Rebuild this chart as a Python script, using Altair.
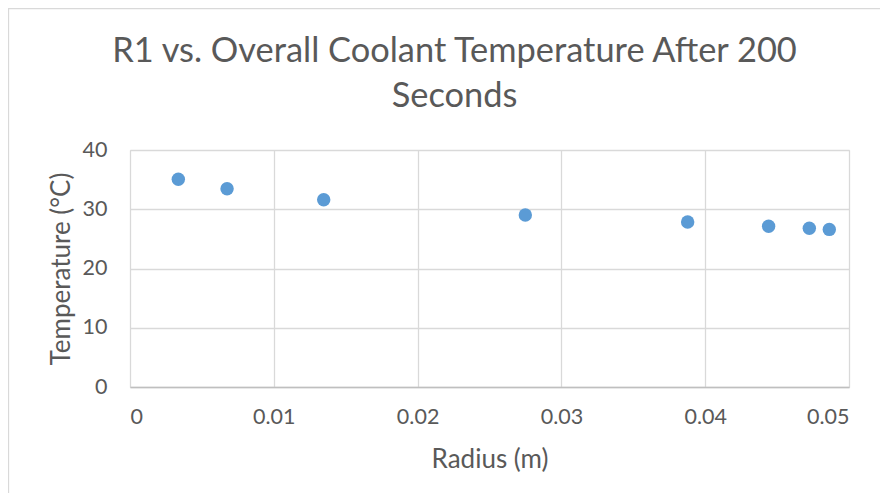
import altair as alt
import pandas as pd

radius = [0.00336, 0.00675, 0.01347, 0.02749, 0.03878, 0.04441, 0.04724, 0.04863]
temperature = [35.05, 33.47, 31.6, 29.03, 27.85, 27.12, 26.78, 26.6]
x_ticks = [0, 0.01, 0.02, 0.03, 0.04, 0.05]
y_ticks = [0, 10, 20, 30, 40]
title_lines = ["R1 vs. Overall Coolant Temperature After 200", "Seconds"]

df = pd.DataFrame({"Radius": radius, "Temperature": temperature})

FONT = "Lato"
GREY = "#595959"
GRID = "#D9D9D9"

W, H = 719, 237
PAD_L, PAD_T = 122, 142

points = alt.Chart(df).mark_circle(size=180, color="#5B9BD5", opacity=1).encode(
    x=alt.X("Radius:Q",
            scale=alt.Scale(domain=[0, 0.05], nice=False, zero=True),
            axis=alt.Axis(values=x_ticks, format="~g", title="Radius (m)",
                          grid=True, gridColor=GRID, gridWidth=1.3,
                          domain=True, domainColor="#BFBFBF", domainWidth=1.3,
                          ticks=False, labelPadding=19, labelFontSize=21.5,
                          labelFont=FONT, labelColor=GREY,
                          titleFont=FONT, titleFontSize=26, titleColor=GREY,
                          titleFontWeight="normal", titlePadding=19)),
    y=alt.Y("Temperature:Q",
            scale=alt.Scale(domain=[0, 40], nice=False, zero=True),
            axis=alt.Axis(values=y_ticks, format="d", title="Temperature (°C)",
                          grid=True, gridColor=GRID, gridWidth=1.3,
                          domain=False, ticks=False, labelPadding=23,
                          labelFontSize=21.5, labelFont=FONT, labelColor=GREY,
                          titleFont=FONT, titleFontSize=26, titleColor=GREY,
                          titleFontWeight="normal", titlePadding=8)),
)

border = alt.Chart(pd.DataFrame({"a": [0]})).mark_rect(
    fillOpacity=0, stroke=GRID, strokeWidth=1.3
).encode(
    x=alt.value(-PAD_L + 0.5), x2=alt.value(W + 80),
    y=alt.value(-PAD_T + 0.5), y2=alt.value(H + 140),
)

chart = alt.layer(border, points).properties(
    width=W, height=H,
    title=alt.TitleParams(text=title_lines, font=FONT, fontSize=34.4,
                          fontWeight="normal", color=GREY, anchor="middle",
                          frame="group", lineHeight=45, dx=-35, dy=106.5,
                          offset=0),
    autosize=alt.AutoSizeParams(type="none"),
    padding={"left": PAD_L, "top": PAD_T, "right": 31, "bottom": 106},
).configure_view(stroke=None).configure(background="white")

chart.save("out.html", embed_options={"renderer": "svg", "actions": False})
